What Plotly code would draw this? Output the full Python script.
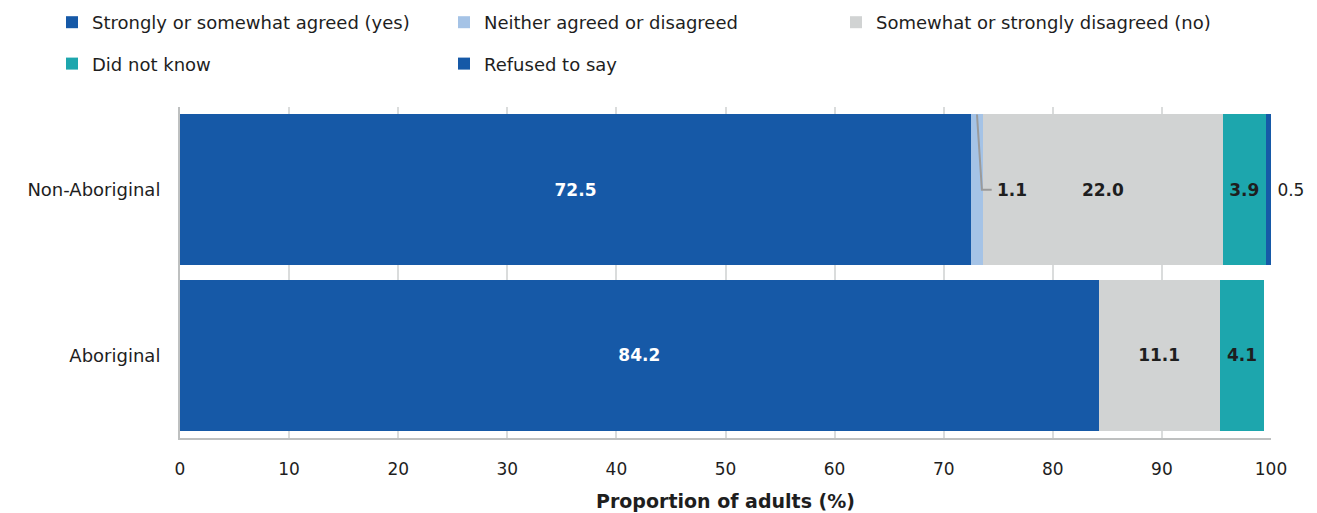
import plotly.graph_objects as go

# Survey responses by group (proportion of adults, %)
groups = ["Non-Aboriginal", "Aboriginal"]
agreed = [72.5, 84.2]
neither = [1.1, None]
disagreed = [22.0, 11.1]
did_not_know = [3.9, 4.1]
refused = [0.5, None]

series_names = [
    "Strongly or somewhat agreed (yes)",
    "Neither agreed or disagreed",
    "Somewhat or strongly disagreed (no)",
    "Did not know",
    "Refused to say",
]
x_ticks = [0, 10, 20, 30, 40, 50, 60, 70, 80, 90, 100]

BLUE = "#1659A7"
LIGHT_BLUE = "#A5C3E6"
GREY = "#D1D3D3"
TEAL = "#1DA6AD"
DARK = "#1E1E1E"
FONT = "DejaVu Sans"
BARGAP = 0.09
W, H = 1317, 513


def fmt(vals):
    return [f"{v:.1f}" if v is not None else "" for v in vals]


fig = go.Figure()

fig.add_trace(go.Bar(
    name=series_names[0], y=groups, x=agreed, orientation="h",
    marker=dict(color=BLUE, line=dict(width=0)),
    text=fmt(agreed), texttemplate="<b>%{text}</b>", textposition="inside",
    insidetextanchor="middle", insidetextfont=dict(color="white", size=17, family=FONT),
    legend="legend", legendgroup="g0",
))
fig.add_trace(go.Bar(
    name=series_names[1], y=groups, x=neither, orientation="h",
    marker=dict(color=LIGHT_BLUE, line=dict(width=0)),
    textposition="none", legend="legend2", legendgroup="g1",
))
fig.add_trace(go.Bar(
    name=series_names[2], y=groups, x=disagreed, orientation="h",
    marker=dict(color=GREY, line=dict(width=0)),
    text=fmt(disagreed), texttemplate="<b>%{text}</b>", textposition="inside",
    insidetextanchor="middle", insidetextfont=dict(color=DARK, size=17, family=FONT),
    legend="legend3", legendgroup="g2",
))
fig.add_trace(go.Bar(
    name=series_names[3], y=groups, x=did_not_know, orientation="h",
    marker=dict(color=TEAL, line=dict(width=0)),
    text=fmt(did_not_know), texttemplate="<b>%{text}</b>", textposition="inside",
    insidetextanchor="middle", insidetextfont=dict(color=DARK, size=17, family=FONT),
    legend="legend", legendgroup="g3",
))
fig.add_trace(go.Bar(
    name=series_names[4], y=groups, x=refused, orientation="h",
    marker=dict(color=BLUE, line=dict(width=0)),
    text=fmt(refused), texttemplate="\u2009%{text}", textposition="outside",
    cliponaxis=False,
    outsidetextfont=dict(color=DARK, size=17, family=FONT),
    legend="legend2", legendgroup="g4",
))

# Leader line and label for the thin "neither" segment
seg_start = agreed[0]
seg_end = agreed[0] + neither[0]
bar_top = -(1 - BARGAP) / 2
fig.add_shape(
    type="path", xref="x", yref="y",
    path=(f"M {seg_start + neither[0] / 2},{bar_top} "
          f"L {seg_end - 0.1},0 L {seg_end + 0.8},0"),
    line=dict(color="#9A9A9A", width=2),
)
fig.add_annotation(
    x=seg_end + 0.8, y=groups[0], xref="x", yref="y",
    text=f"<b>{neither[0]:.1f}</b>", showarrow=False,
    xanchor="left", xshift=3, font=dict(color=DARK, size=17, family=FONT),
)

# Three legend columns, two rows
legend_common = dict(
    orientation="v", xref="container", yref="container",
    xanchor="left", yanchor="top", y=1 - 4 / H,
    tracegroupgap=15,
    font=dict(size=18, family=FONT, color=DARK),
    bgcolor="rgba(0,0,0,0)", itemclick=False, itemdoubleclick=False,
)

fig.update_layout(
    width=W, height=H,
    margin=dict(l=180, r=46, t=107, b=75, autoexpand=False),
    barmode="stack", bargap=BARGAP,
    plot_bgcolor="white", paper_bgcolor="white",
    font=dict(family=FONT, size=17, color=DARK),
    legend=dict(x=52 / W, **legend_common),
    legend2=dict(x=444 / W, **legend_common),
    legend3=dict(x=836 / W, **legend_common),
    xaxis=dict(
        range=[0, 100], tickvals=x_ticks, ticktext=[str(t) for t in x_ticks],
        showgrid=True, gridcolor="#DADCDC", gridwidth=2,
        showline=True, linecolor="#BEC0C0", linewidth=2,
        zeroline=False, ticks="", ticklabelstandoff=15,
        tickfont=dict(size=17, family=FONT, color=DARK),
        title=dict(text="<b>Proportion of adults (%)</b>", standoff=16,
                   font=dict(size=19, family=FONT, color=DARK)),
        automargin=False, fixedrange=True,
    ),
    yaxis=dict(
        autorange="reversed", categoryorder="array", categoryarray=groups,
        showgrid=False, showline=True, linecolor="#BEC0C0", linewidth=2,
        ticks="", ticklabelstandoff=14,
        tickfont=dict(size=18, family=FONT, color=DARK),
        automargin=False, fixedrange=True,
    ),
)

fig.write_html("out.html")
